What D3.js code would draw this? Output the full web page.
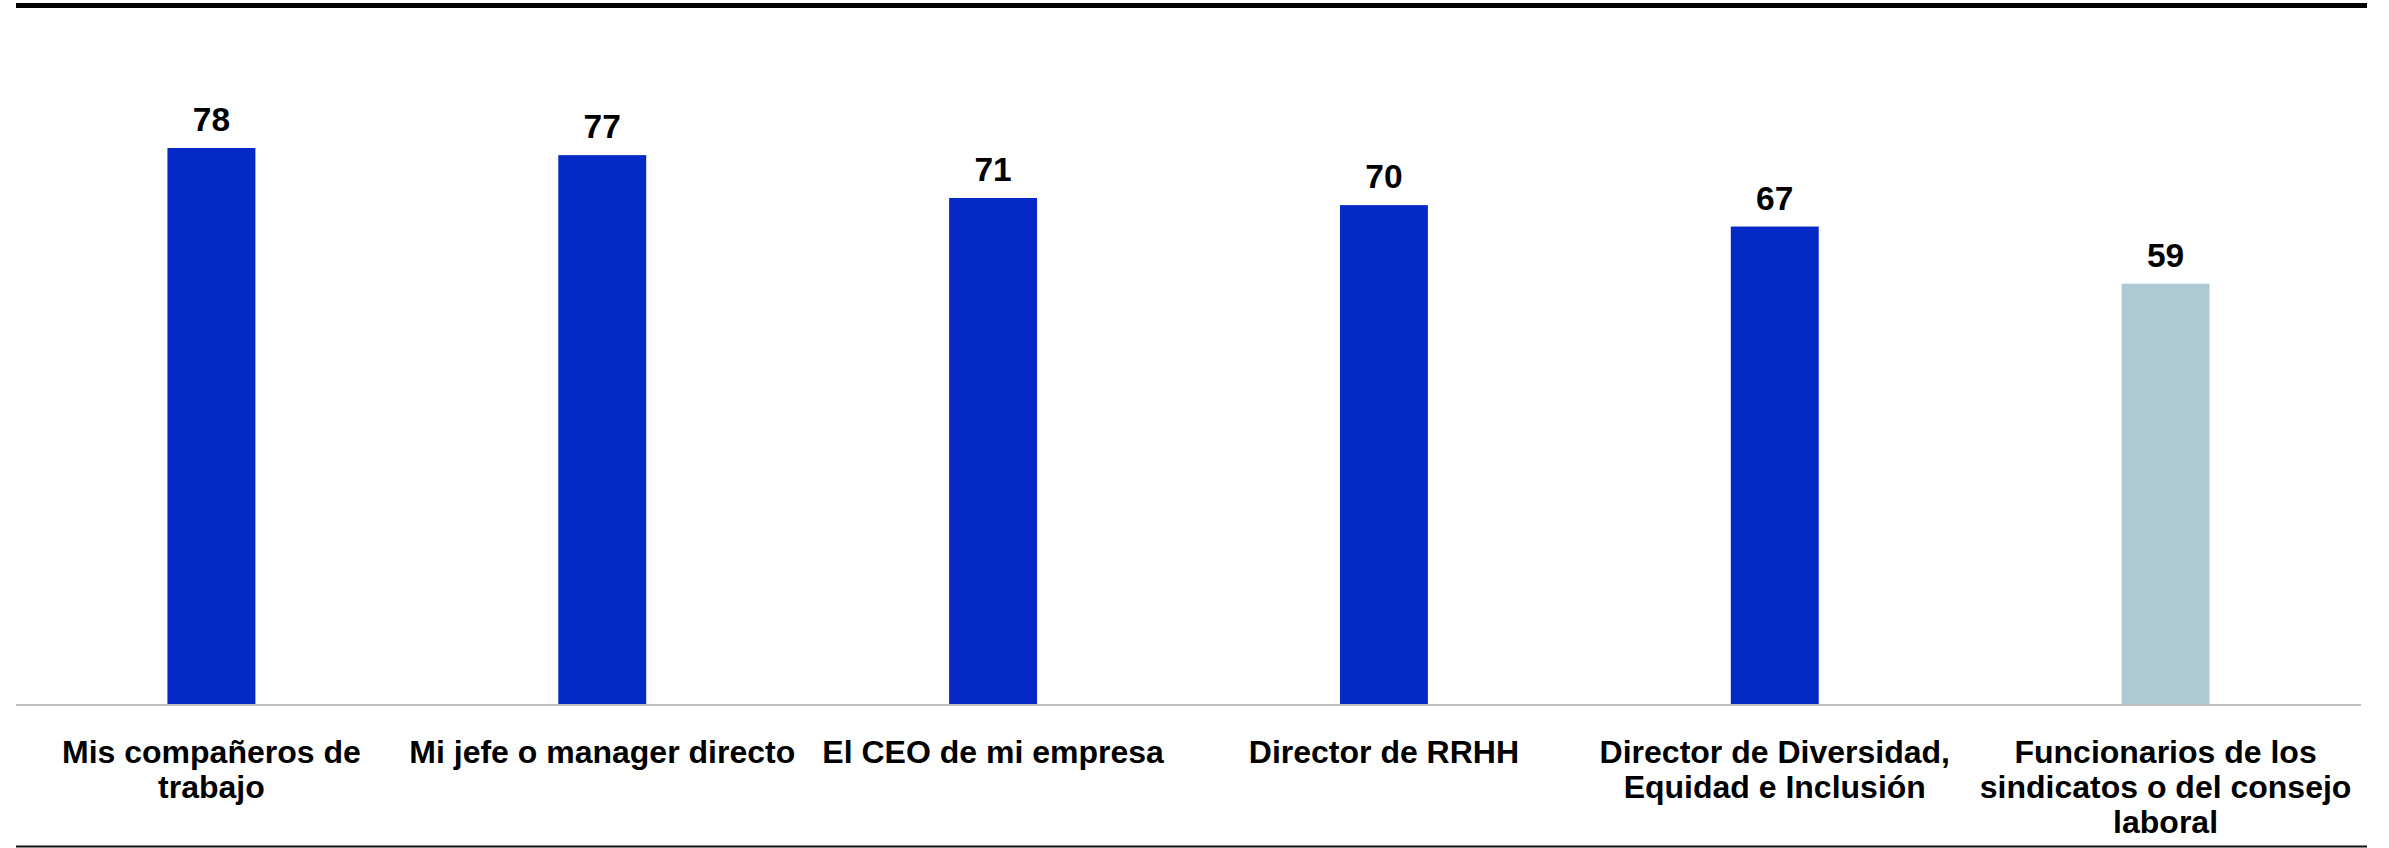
<!DOCTYPE html>
<html>
<head>
<meta charset="utf-8">
<script src="https://cdn.jsdelivr.net/npm/d3@7"></script>
<style>
  html, body { margin: 0; padding: 0; background: #fff; }
  svg { display: block; }
</style>
</head>
<body>
<svg id="chart"></svg>
<script>
// data
const categories = [
  "Mis compañeros de\ntrabajo",
  "Mi jefe o manager directo",
  "El CEO de mi empresa",
  "Director de RRHH",
  "Director de Diversidad,\nEquidad e Inclusión",
  "Funcionarios de los\nsindicatos o del consejo\nlaboral"
];
const values = [78, 77, 71, 70, 67, 59];
const highlight = [false, false, false, false, false, true];

const width = 2389, height = 848;
const left = 16, right = 2361;
const baseY = 705;

const svg = d3.select("#chart")
    .attr("width", width)
    .attr("height", height)
    .attr("viewBox", [0, 0, width, height])
    .style("font-family", "'Liberation Sans', Arial, sans-serif");

const x = d3.scaleBand()
    .domain(d3.range(categories.length))
    .range([left, right])
    .paddingInner(0.775)
    .paddingOuter(0.3875);

const y = d3.scaleLinear()
    .domain([0, 78])
    .range([baseY, 148]);

// top rule
svg.append("rect")
    .attr("x", 16).attr("y", 3)
    .attr("width", 2351).attr("height", 5)
    .attr("fill", "#000");

// bars
svg.append("g")
  .selectAll("rect")
  .data(values)
  .join("rect")
    .attr("x", (d, i) => x(i))
    .attr("y", d => y(d))
    .attr("width", x.bandwidth())
    .attr("height", d => y(0) - y(d))
    .attr("fill", (d, i) => highlight[i] ? "#ADC9D4" : "#0529C7");

// value labels
svg.append("g")
    .attr("font-size", 33.5)
    .attr("font-weight", "bold")
    .attr("text-anchor", "middle")
  .selectAll("text")
  .data(values)
  .join("text")
    .attr("x", (d, i) => x(i) + x.bandwidth() / 2)
    .attr("y", d => y(d) - 17)
    .text(d => d);

// baseline
svg.append("line")
    .attr("x1", left).attr("x2", right)
    .attr("y1", baseY).attr("y2", baseY)
    .attr("stroke", "#BFBFBF")
    .attr("stroke-width", 2);

// category labels
const xAxis = svg.append("g")
    .attr("font-size", 32)
    .attr("font-weight", "bold")
    .attr("text-anchor", "middle");

xAxis.selectAll("text")
  .data(categories)
  .join("text")
    .attr("x", (d, i) => x(i) + x.bandwidth() / 2)
    .attr("y", 762.5)
    .each(function(d) {
      const t = d3.select(this);
      d.split("\n").forEach((line, j) => {
        t.append("tspan")
            .attr("x", t.attr("x"))
            .attr("dy", j === 0 ? 0 : 35)
            .text(line);
      });
    });

// bottom rule
svg.append("line")
    .attr("x1", 16).attr("x2", 2367)
    .attr("y1", 846.5).attr("y2", 846.5)
    .attr("stroke", "#111")
    .attr("stroke-width", 2);
</script>
</body>
</html>
